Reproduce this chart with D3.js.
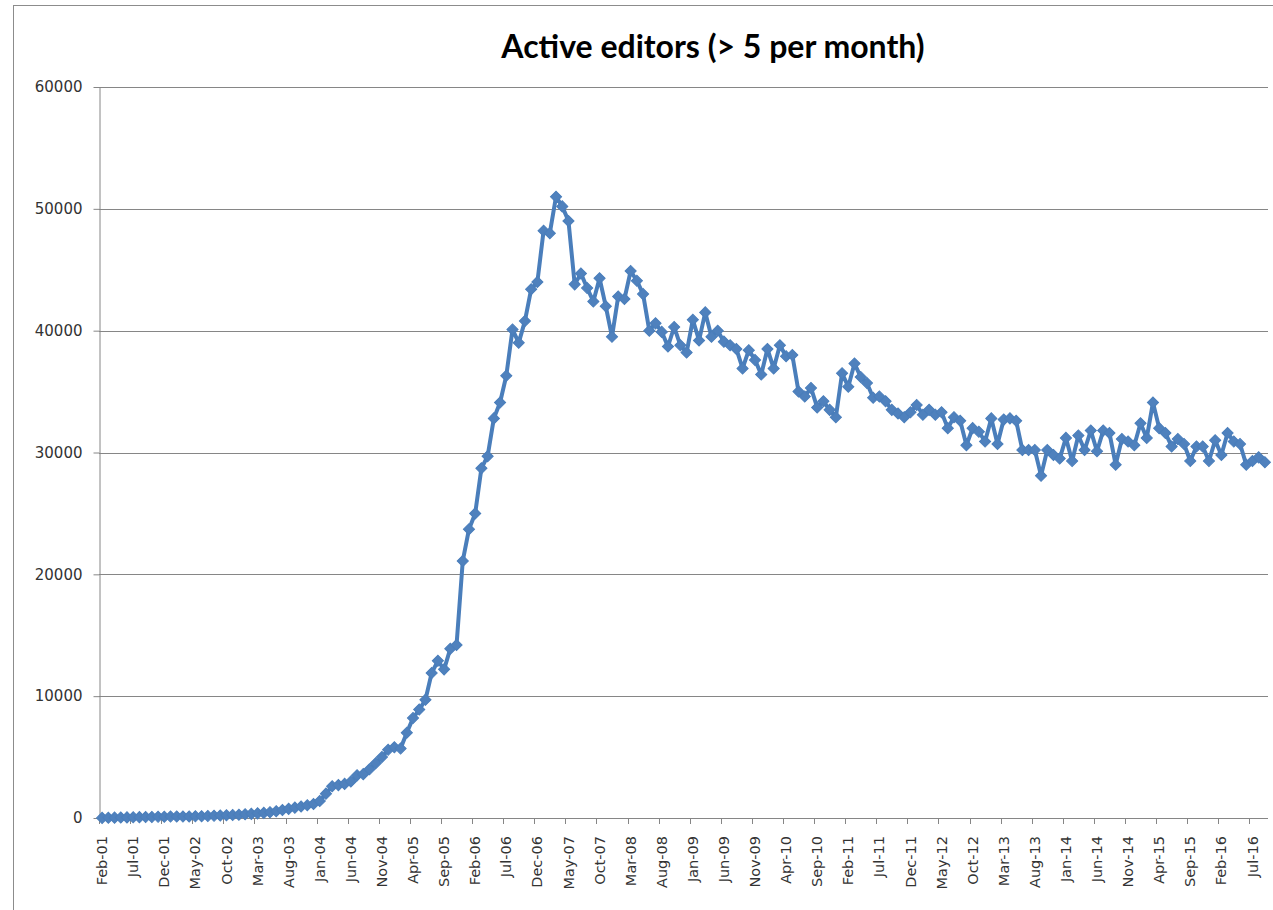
<!DOCTYPE html>
<html>
<head>
<meta charset="utf-8">
<script src="https://cdn.jsdelivr.net/npm/d3@7"></script>
<style>
    body { margin: 0; background: #fff; }
    svg { display: block; }
</style>
</head>
<body>
<svg id="chart"></svg>
<script>
const monthNames = ['Jan', 'Feb', 'Mar', 'Apr', 'May', 'Jun', 'Jul', 'Aug', 'Sep', 'Oct', 'Nov', 'Dec'];
const startYear = 2001, startMonth = 1;   // Feb-01
const monthCount = 188;                   // Feb-01 .. Sep-16

// active editors per month
const editors = [
    10, 20, 30, 40, 50, 60, 70, 80, 90, 100, 110,
    120, 130, 120, 130, 140, 150, 160, 180, 200, 230, 250, 270,
    300, 340, 380, 420, 480, 560, 650, 750, 850, 950, 1050, 1150,
    1400, 2000, 2600, 2700, 2800, 3000, 3500, 3600, 4000, 4500, 5000, 5600,
    5800, 5700, 7000, 8200, 8900, 9700, 11900, 12900, 12200, 13900, 14200, 21100,
    23700, 25000, 28700, 29700, 32800, 34100, 36300, 40100, 39000, 40800, 43400, 44000,
    48200, 48000, 51000, 50200, 49000, 43800, 44700, 43500, 42400, 44300, 42000, 39500,
    42800, 42600, 44900, 44100, 43000, 40000, 40600, 39900, 38700, 40300, 38800, 38200,
    40900, 39200, 41500, 39500, 40000, 39100, 38800, 38500, 36900, 38400, 37600, 36400,
    38500, 36900, 38800, 37900, 38000, 35000, 34600, 35300, 33700, 34200, 33500, 32900,
    36500, 35400, 37300, 36200, 35700, 34500, 34600, 34200, 33500, 33200, 32900, 33300,
    33900, 33100, 33500, 33100, 33300, 32000, 32900, 32600, 30600, 32000, 31700, 30900,
    32800, 30700, 32700, 32800, 32600, 30200, 30200, 30200, 28100, 30200, 29800, 29500,
    31200, 29300, 31400, 30200, 31800, 30100, 31800, 31600, 29000, 31100, 30900, 30600,
    32400, 31200, 34100, 32000, 31600, 30500, 31100, 30700, 29300, 30500, 30500, 29300,
    31000, 29800, 31600, 30900, 30700, 29000, 29300, 29600, 29200
];

const xTickLabels = [
    'Feb-01', 'Jul-01', 'Dec-01', 'May-02', 'Oct-02', 'Mar-03', 'Aug-03', 'Jan-04',
    'Jun-04', 'Nov-04', 'Apr-05', 'Sep-05', 'Feb-06', 'Jul-06', 'Dec-06', 'May-07',
    'Oct-07', 'Mar-08', 'Aug-08', 'Jan-09', 'Jun-09', 'Nov-09', 'Apr-10', 'Sep-10',
    'Feb-11', 'Jul-11', 'Dec-11', 'May-12', 'Oct-12', 'Mar-13', 'Aug-13', 'Jan-14',
    'Jun-14', 'Nov-14', 'Apr-15', 'Sep-15', 'Feb-16', 'Jul-16'
];
const yTicks = [0, 10000, 20000, 30000, 40000, 50000, 60000];

const title = 'Active editors (> 5 per month)';

// category labels like "Feb-01"
const months = [];
for (let k = 0; k < monthCount; k++) {
    const m = (startMonth + k) % 12;
    const yr = startYear + Math.floor((startMonth + k) / 12);
    months.push(monthNames[m] + '-' + String(yr % 100).padStart(2, '0'));
}
const data = months.map((m, i) => ({ month: m, value: editors[i] }));

function drawChart() {
    const width = 1273, height = 910;
    const left = 99, right = 1268, top = 87, bottom = 818;
    const lineColor = '#4A7EBB';
    const gridColor = '#868686';

    const svg = d3.select('#chart')
        .attr('width', width)
        .attr('height', height);

    // chart area border (only top and left edges visible)
    svg.append('rect')
        .attr('x', 13.5).attr('y', 5.5)
        .attr('width', 1400).attr('height', 1000)
        .attr('fill', 'none')
        .attr('stroke', '#8c8c8c');

    const x = d3.scaleBand()
        .domain(months)
        .range([left, right])
        .paddingInner(0)
        .paddingOuter(0);
    const bw = x.bandwidth();

    const y = d3.scaleLinear()
        .domain([0, 60000])
        .range([bottom, top]);

    // gridlines
    svg.append('g')
        .selectAll('line')
        .data(yTicks.filter(d => d > 0))
        .enter().append('line')
        .attr('x1', left).attr('x2', right)
        .attr('y1', d => Math.round(y(d)) + 0.5)
        .attr('y2', d => Math.round(y(d)) + 0.5)
        .attr('stroke', gridColor)
        .attr('stroke-width', 1);

    // y axis
    const yAxis = svg.append('g')
        .attr('transform', `translate(${left + 0.5},0)`)
        .call(d3.axisLeft(y).tickValues(yTicks).tickSize(6).tickSizeOuter(0).tickPadding(11).tickFormat(d3.format('d')));
    yAxis.select('.domain').attr('stroke', gridColor);
    yAxis.selectAll('.tick line').attr('stroke', gridColor);
    yAxis.selectAll('.tick text')
        .attr('font-family', 'DejaVu Sans, sans-serif')
        .attr('font-size', '15px')
        .attr('fill', '#333');

    // x axis
    const xAxis = svg.append('g');
    xAxis.append('line')
        .attr('x1', left).attr('x2', right)
        .attr('y1', bottom + 0.5).attr('y2', bottom + 0.5)
        .attr('stroke', gridColor);
    xAxis.selectAll('.xtick')
        .data(xTickLabels)
        .enter().append('line')
        .attr('class', 'xtick')
        .attr('x1', d => Math.round(x(d)) + 0.5)
        .attr('x2', d => Math.round(x(d)) + 0.5)
        .attr('y1', bottom)
        .attr('y2', bottom + 6)
        .attr('stroke', gridColor);
    xAxis.selectAll('.xlabel')
        .data(xTickLabels)
        .enter().append('text')
        .attr('class', 'xlabel')
        .attr('transform', d => `translate(${x(d) + bw / 2},836) rotate(-90)`)
        .attr('text-anchor', 'end')
        .attr('dy', '0.35em')
        .attr('font-family', 'DejaVu Sans, sans-serif')
        .attr('font-size', '14.5px')
        .attr('fill', '#333')
        .text(d => d);

    // series line
    const line = d3.line()
        .x(d => x(d.month) + bw / 2)
        .y(d => y(d.value));

    svg.append('path')
        .datum(data)
        .attr('d', line)
        .attr('fill', 'none')
        .attr('stroke', lineColor)
        .attr('stroke-width', 4)
        .attr('stroke-linejoin', 'round');

    // diamond markers
    const diamond = d3.symbol().type(d3.symbolSquare).size(62);
    svg.append('g')
        .selectAll('path')
        .data(data)
        .enter().append('path')
        .attr('d', diamond)
        .attr('transform', d => `translate(${x(d.month) + bw / 2},${y(d.value)}) rotate(45)`)
        .attr('fill', '#4F81BD')
        .attr('stroke', lineColor)
        .attr('stroke-width', 1);

    // title
    svg.append('text')
        .attr('x', 713)
        .attr('y', 58)
        .attr('text-anchor', 'middle')
        .attr('font-family', 'Lato, sans-serif')
        .attr('font-weight', 'bold')
        .attr('font-size', '32px')
        .attr('fill', '#000')
        .text(title);
}

drawChart();
</script>
</body>
</html>
